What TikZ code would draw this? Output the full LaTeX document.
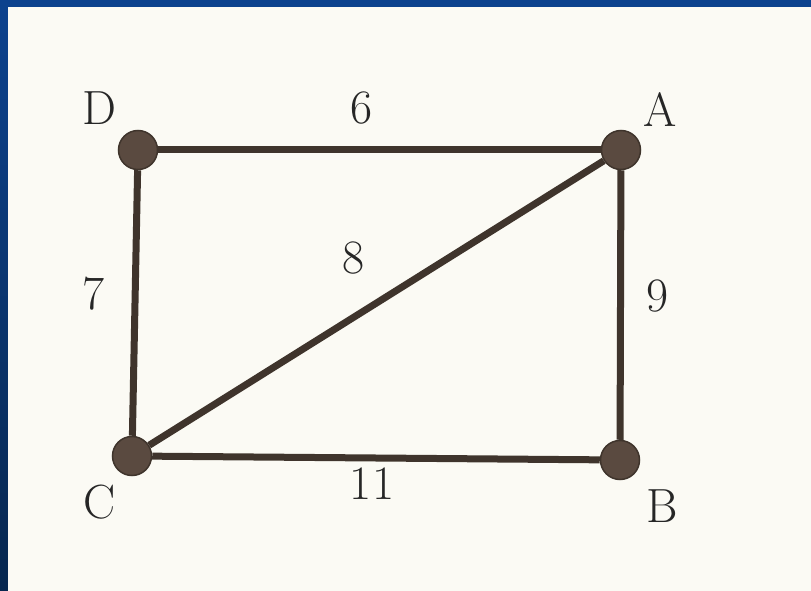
\documentclass[tikz,border=0pt]{standalone}
\usepackage{xcolor,tikz}
\usetikzlibrary{positioning}
\definecolor{inkbrown}{HTML}{3F342C}
\definecolor{dotbrown}{HTML}{5A4A40}
\definecolor{paper}{HTML}{FBFAF4}
\definecolor{slideblue}{HTML}{0C428E}
\definecolor{slidedark}{HTML}{07274F}

\begin{document}
\begin{tikzpicture}[x=1pt,y=-1pt,
font=\fontsize{48}{56}\selectfont,
vtx/.style={circle,fill=dotbrown,draw=inkbrown,line width=1.5pt,minimum size=39pt,inner sep=0pt},
wt/.style={inner sep=0pt,text=black!85},
edge/.style={draw=inkbrown,line width=7pt}]
\useasboundingbox (0,0) rectangle (811,591);
\shade[top color=slideblue,bottom color=slidedark] (0,0) rectangle (811,591);
\fill[paper] (8,7) rectangle (811,591);
\node[vtx] (D) at (138,150) {};
\node[vtx] (A) at (621,150) {};
\node[vtx] (C) at (132,456) {};
\node[vtx] (B) at (620,460) {};
\draw[edge] (D)--(A); \draw[edge] (A)--(B); \draw[edge] (C)--(B);
\draw[edge] (D)--(C); \draw[edge] (C)--(A);
\node[wt] (labD) at (99,108) {D};
\node[wt] (labA) at (660,110) {A};
\node[wt] (labC) at (100,502) {C};
\node[wt] (labB) at (662,506) {B};
\node[wt] (w6) at (362,108) {6};
\node[wt] (w8) at (354,258) {8};
\node[wt] (w7) at (94,294) {7};
\node[wt] (w9) at (658,296) {9};
\node[wt] (w11) at (372,484) {11};
\end{tikzpicture}
\end{document}
